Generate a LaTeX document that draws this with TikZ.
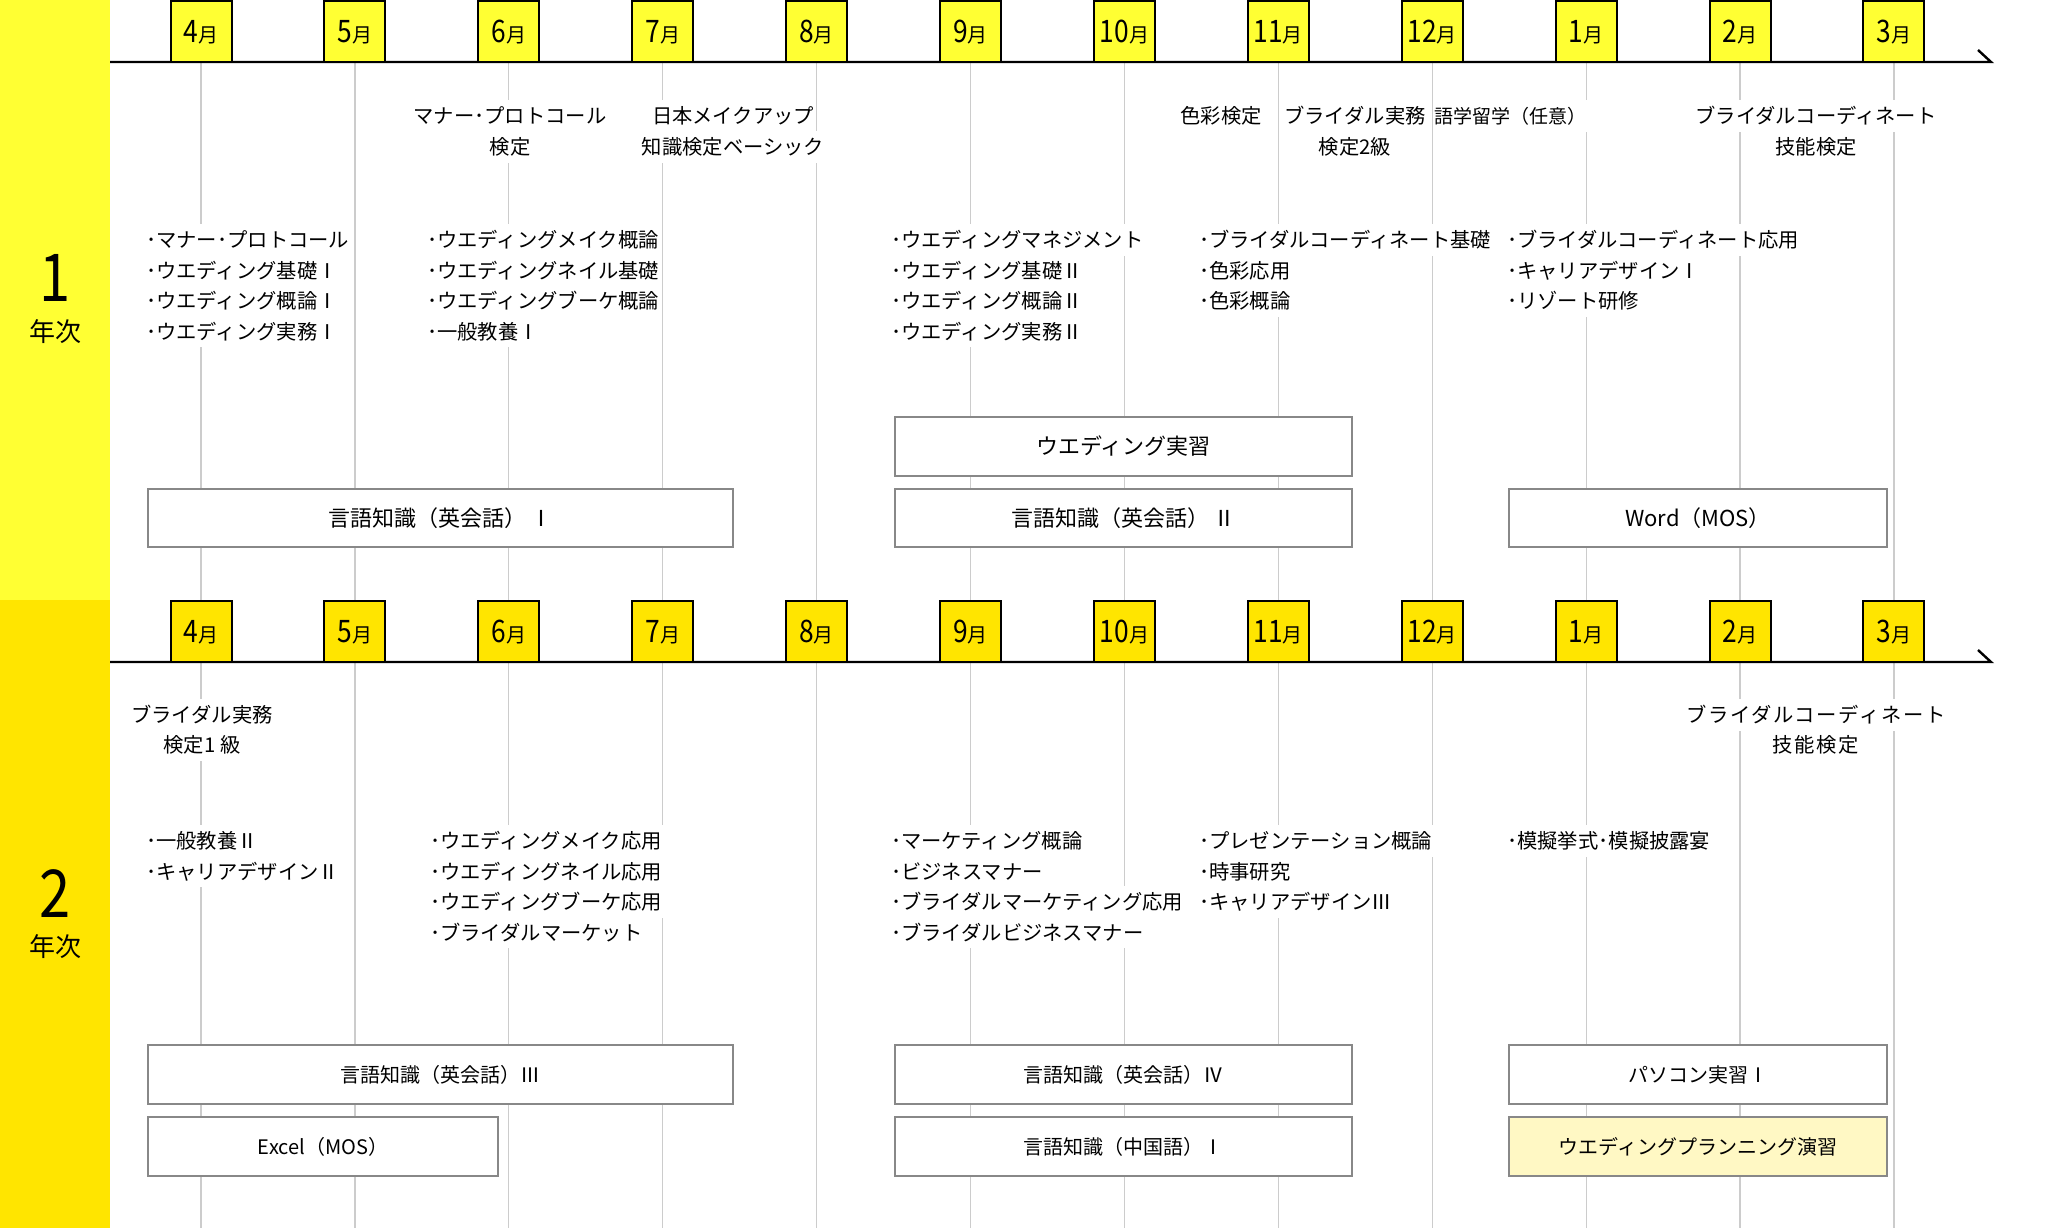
\documentclass[tikz,border=0pt]{standalone}
\usepackage{fontspec}
\setmainfont{Noto Sans CJK JP}
\newfontfamily\numfont[FakeStretch=0.85]{Noto Sans CJK JP}
\definecolor{bandA}{RGB}{255,255,51}
\definecolor{bandB}{RGB}{255,229,0}
\definecolor{gridc}{RGB}{204,204,204}
\definecolor{boxgray}{RGB}{136,136,136}
\definecolor{cream}{RGB}{255,248,196}
\newcommand\itemcol[4]{%
  \foreach \itm [count=\kk from 0] in {#4}{%
    \node[ln, anchor=west] (#1\kk) at (#2-3, #3+30.5*\kk) {\itm};}}
\newcommand\mlabel[1]{{\numfont\fontsize{31pt}{31pt}\selectfont #1}{\fontsize{20pt}{20pt}\selectfont 月}}
\begin{document}
\begin{tikzpicture}[x=1pt, y=-1pt,
  txt/.style={font=\fontsize{20.3pt}{24pt}\selectfont},
  ln/.style={txt, fill=white, inner xsep=1pt, inner ysep=0pt, text height=23.45pt, text depth=8.05pt},
  course/.style={draw=boxgray, line width=2pt, fill=white, inner sep=0pt},
  courseA/.style={course, font=\fontsize{22pt}{26pt}\selectfont, text height=19.4pt, text depth=2.6pt},
  courseB/.style={course, font=\fontsize{20pt}{24pt}\selectfont, text height=17.6pt, text depth=2.4pt},
  monthA/.style={draw=black, line width=2pt, fill=bandA, minimum width=61pt, minimum height=61pt, inner sep=0pt, text height=22.5pt, text depth=0pt},
  monthB/.style={monthA, fill=bandB},
  gridl/.style={draw=gridc, line width=1.2pt},
  tline/.style={draw=black, line width=2.4pt},
]
\useasboundingbox (0,0) rectangle (2072,1228);
\fill[white] (0,0) rectangle (2072,1228);
\fill[bandA] (0,0) rectangle (110,600);
\fill[bandB] (0,600) rectangle (110,1228);

% month coordinates
\foreach \m [count=\i from 0] in {4,5,6,7,8,9,10,11,12,1,2,3}{
  \pgfmathsetmacro\cx{201+153.9*\i}
  \coordinate (ta\i) at (\cx,62);
  \coordinate (tb\i) at (\cx,662);
}
\coordinate (endA) at (0,600);
\coordinate (endB) at (0,1228);
\foreach \i in {0,...,11}{
  \draw[gridl] (ta\i) -- (ta\i |- endA);
  \draw[gridl] (tb\i) -- (tb\i |- endB);
}

% timelines
\coordinate (la0) at (110,62); \coordinate (la1) at (1991,62); \coordinate (la2) at (1978,50);
\coordinate (lb0) at (110,662); \coordinate (lb1) at (1991,662); \coordinate (lb2) at (1978,650);
\draw[tline] (la0) -- (la1) -- (la2);
\draw[tline] (lb0) -- (lb1) -- (lb2);

% month boxes
\foreach \m [count=\i from 0] in {4,5,6,7,8,9,10,11,12,1,2,3}{
  \pgfmathsetmacro\cx{201+153.9*\i}
  \node[monthA] (ma\i) at (\cx,31.5) {\mlabel{\m}};
  \node[monthB] (mb\i) at (\cx,631.5) {\mlabel{\m}};
}

% year labels
\node[inner sep=0pt, text height=48pt, text depth=0pt] (yr1) at (55,277) {\numfont\fontsize{66pt}{66pt}\selectfont 1};
\node[inner sep=0pt, text height=22.9pt, text depth=3.1pt] (yr1k) at (55,332) {\fontsize{26pt}{26pt}\selectfont 年次};
\node[inner sep=0pt, text height=48pt, text depth=0pt] (yr2) at (55,893) {\numfont\fontsize{66pt}{66pt}\selectfont 2};
\node[inner sep=0pt, text height=22.9pt, text depth=3.1pt] (yr2k) at (55,947) {\fontsize{26pt}{26pt}\selectfont 年次};

% year 1 exams
\node[ln] (x1a) at (510,116) {マナー･プロトコール};
\node[ln] (x1b) at (510,147) {検定};
\node[ln] (x2a) at (733,116) {日本メイクアップ};
\node[ln] (x2b) at (733,147) {知識検定ベーシック};
\node[ln] (x3a) at (1221,116) {色彩検定};
\node[ln] (x4a) at (1355,116) {ブライダル実務};
\node[ln] (x4b) at (1355,147) {検定2級};
\node[ln, font=\fontsize{19pt}{22pt}\selectfont] (x5a) at (1510,116) {語学留学（任意）};
\node[ln] (x6a) at (1816,116) {ブライダルコーディネート};
\node[ln] (x6b) at (1816,147) {技能検定};

% year 1 subjects
\itemcol{pa}{148}{240}{･マナー･プロトコール, ･ウエディング基礎Ⅰ, ･ウエディング概論Ⅰ, ･ウエディング実務Ⅰ}
\itemcol{pb}{429}{240}{･ウエディングメイク概論, ･ウエディングネイル基礎, ･ウエディングブーケ概論, ･一般教養Ⅰ}
\itemcol{pc}{893}{240}{･ウエディングマネジメント, ･ウエディング基礎Ⅱ, ･ウエディング概論Ⅱ, ･ウエディング実務Ⅱ}
\itemcol{pd}{1201}{240}{･ブライダルコーディネート基礎, ･色彩応用, ･色彩概論}
\itemcol{pe}{1509}{240}{･ブライダルコーディネート応用, ･キャリアデザインⅠ, ･リゾート研修}

% year 1 courses
\node[courseA, minimum width=457pt, minimum height=59pt] (wj) at (1123.5,446.5) {ウエディング実習};
\node[courseA, minimum width=585pt, minimum height=58pt] (e1) at (440.5,518) {言語知識（英会話） Ⅰ};
\node[courseA, minimum width=457pt, minimum height=58pt] (e2) at (1123.5,518) {言語知識（英会話） Ⅱ};
\node[courseA, minimum width=378pt, minimum height=58pt] (wd) at (1698,518) {Word（MOS）};

% year 2 exams
\node[ln] (z1a) at (202,715) {ブライダル実務};
\node[ln] (z1b) at (202,745) {検定1 級};
\node[ln, font=\fontsize{20.3pt}{24pt}\selectfont\addfontfeature{LetterSpace=8}] (z2a) at (1816,715) {ブライダルコーディネート};
\node[ln, font=\fontsize{20.3pt}{24pt}\selectfont\addfontfeature{LetterSpace=8}] (z2b) at (1816,745) {技能検定};

% year 2 subjects
\itemcol{qa}{148}{841}{･一般教養Ⅱ, ･キャリアデザインⅡ}
\itemcol{qb}{432}{841}{･ウエディングメイク応用, ･ウエディングネイル応用, ･ウエディングブーケ応用, ･ブライダルマーケット}
\itemcol{qc}{893}{841}{･マーケティング概論, ･ビジネスマナー, ･ブライダルマーケティング応用, ･ブライダルビジネスマナー}
\itemcol{qd}{1201}{841}{･プレゼンテーション概論, ･時事研究, ･キャリアデザインⅢ}
\itemcol{qe}{1509}{841}{･模擬挙式･模擬披露宴}

% year 2 courses
\node[courseB, minimum width=585pt, minimum height=59pt] (e3) at (440.5,1074.5) {言語知識（英会話）Ⅲ};
\node[courseB, minimum width=350pt, minimum height=59pt] (ex) at (323,1146.5) {Excel（MOS）};
\node[courseB, minimum width=457pt, minimum height=59pt] (e4) at (1123.5,1074.5) {言語知識（英会話）Ⅳ};
\node[courseB, minimum width=457pt, minimum height=59pt] (zh) at (1123.5,1146.5) {言語知識（中国語）Ⅰ};
\node[courseB, minimum width=378pt, minimum height=59pt] (pcj) at (1698,1074.5) {パソコン実習Ⅰ};
\node[courseB, fill=cream, minimum width=378pt, minimum height=59pt] (wp) at (1698,1146.5) {ウエディングプランニング演習};
\end{tikzpicture}
\end{document}
